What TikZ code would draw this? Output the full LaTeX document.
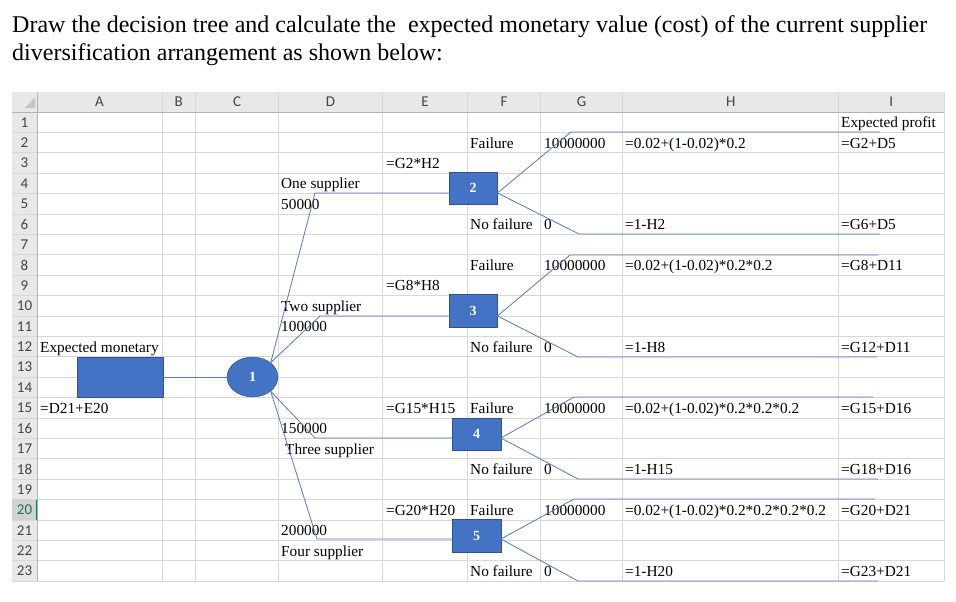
\documentclass[tikz,border=0pt]{standalone}
\usepackage{fontspec}
\setmainfont{Liberation Serif}
\newfontfamily\hdrfont{Carlito}
\usetikzlibrary{shapes.geometric,positioning}
\definecolor{boxblue}{RGB}{68,114,196}
\definecolor{boxedge}{RGB}{47,82,143}
\definecolor{linkblue}{RGB}{84,122,190}
\definecolor{gridgray}{RGB}{216,216,216}
\definecolor{hdrgray}{RGB}{232,232,232}
\definecolor{hdrsel}{RGB}{210,210,210}
\definecolor{selgreen}{RGB}{33,115,70}
\definecolor{hdrtext}{RGB}{68,68,68}

\begin{document}
\begin{tikzpicture}[x=1pt,y=-1pt,{cell/.style={anchor=base west,inner sep=0pt,font=\fontsize{15.3}{15.3}\selectfont}},{hdr/.style={inner sep=0pt,text=hdrtext,font=\hdrfont\fontsize{15}{15}\selectfont}},{sqnode/.style={rectangle,draw=boxedge,fill=boxblue,text=white,font=\bfseries\fontsize{14}{14}\selectfont,minimum width=48.5,minimum height=32.5,inner sep=0pt}},{chance/.style={ellipse,draw=boxedge,fill=boxblue,text=white,font=\bfseries\fontsize{14}{14}\selectfont,minimum width=51,minimum height=40,inner sep=0pt}},{link/.style={color=linkblue,line width=0.8pt}}]
	\useasboundingbox (0,0) rectangle (956,602);
	%%title
	\node [anchor=base west,inner sep=0pt,font=\fontsize{24}{24}\selectfont] (title1) at (12,33) {Draw the decision tree and calculate the\ \ expected monetary value (cost) of the current supplier};
	\node [anchor=base west,inner sep=0pt,font=\fontsize{24}{24}\selectfont] (title2) at (12,60) {diversification arrangement as shown below:};

	%%sheet headers
	\fill [hdrgray] (12,92) rectangle (944,112);
	\fill [hdrgray] (12,112) rectangle (37,581.2);
	\fill [hdrsel] (12,499.6) rectangle (37,520);
	\fill [gray!45] (35,97.5) -- (35,108) -- (24.5,108) -- cycle;
	%%grid
	\foreach \r in {0,...,23}
		\draw [gridgray,line width=0.8pt] (12,{112+20.4*\r}) -- (944,{112+20.4*\r});
	\foreach \x in {37,162,195.7,278.3,382.7,467.3,540.7,622.7,838.7,944}
		\draw [gridgray,line width=0.8pt] (\x,92) -- (\x,581.2);
	\draw [gray!60,line width=0.8pt] (12,112) -- (944,112);
	\draw [gray!60,line width=0.8pt] (37,92) -- (37,581.2);
	\draw [selgreen,line width=1.6pt] (36.6,499.6) -- (36.6,520);
	\foreach \l/\x in {A/99.5,B/178.8,C/237,D/330.5,E/425,F/504,G/581.7,H/730.7,I/891.3}
		\node [hdr] (h\l) at (\x,102) {\l};
	\foreach \r in {1,...,19,21,22,23}
		\node [hdr] (r\r) at (24.5,{112+20.4*\r-10.2}) {\r};
	\node [hdr,text=selgreen] (r20) at (24.5,{112+20.4*20-10.2}) {20};

	%%cell texts
	\foreach \cl/\x/\r/\t in {I/841/1/Expected profit,F/470/2/Failure,G/544/2/10000000,H/625/2/=0.02+(1-0.02)*0.2,I/841/2/=G2+D5,E/386/3/=G2*H2,D/281/4/One supplier,D/281/5/50000,F/470/6/No failure,G/544/6/0,H/625/6/=1-H2,I/841/6/=G6+D5,F/470/8/Failure,G/544/8/10000000,H/625/8/=0.02+(1-0.02)*0.2*0.2,I/841/8/=G8+D11,E/386/9/=G8*H8,D/281/10/Two supplier,D/281/11/100000,A/40/12/Expected monetary,F/470/12/No failure,G/544/12/0,H/625/12/=1-H8,I/841/12/=G12+D11,A/40/15/=D21+E20,E/386/15/=G15*H15,F/470/15/Failure,G/544/15/10000000,H/625/15/=0.02+(1-0.02)*0.2*0.2*0.2,I/841/15/=G15+D16,D/281/16/150000,D/285/17/Three supplier,F/470/18/No failure,G/544/18/0,H/625/18/=1-H15,I/841/18/=G18+D16,E/386/20/=G20*H20,F/470/20/Failure,G/544/20/10000000,H/625/20/=0.02+(1-0.02)*0.2*0.2*0.2*0.2,I/841/20/=G20+D21,D/281/21/200000,D/281/22/Four supplier,F/470/23/No failure,G/544/23/0,H/625/23/=1-H20,I/841/23/=G23+D21}
		\node [cell] (\cl\r) at (\x,{112+20.4*\r-4.7}) {\t};

	%%junctions of the tree
	\coordinate (jOne) at (315,193);
	\coordinate (jTwo) at (320,316);
	\coordinate (jThree) at (315,438);
	\coordinate (jFour) at (317,539);
	\coordinate (f2) at (571,132);
	\coordinate (f2e) at (880,132);
	\coordinate (nf2) at (579,234);
	\coordinate (nf2e) at (880,234);
	\coordinate (f3) at (570,255);
	\coordinate (f3e) at (878,255);
	\coordinate (nf3) at (578,357);
	\coordinate (nf3e) at (877,357);
	\coordinate (f4) at (574,397);
	\coordinate (f4e) at (873,397);
	\coordinate (nf4) at (578,479);
	\coordinate (nf4e) at (878,479);
	\coordinate (f5) at (574,499);
	\coordinate (f5e) at (875,499);
	\coordinate (nf5) at (578,581);
	\coordinate (nf5e) at (878,581);

	%%tree nodes
	\node [rectangle,draw=boxedge,fill=boxblue,minimum width=86,minimum height=40,inner sep=0pt] (emv) at (120,377) {};
	\node [chance] (n1) at (252.5,377) {1};
	\node [sqnode] (n2) at (473,188.3) {2};
	\node [sqnode] (n3) at (473,310.5) {3};
	\node [sqnode] (n4) at (476.5,434) {4};
	\node [sqnode] (n5) at (476.5,535.5) {5};

	%%branches
	\draw [link] (emv) -- (n1);
	\draw [link] (n1.north east) -- (jOne) -- (jOne -| n2.west);
	\draw [link] (n1.north east) -- (jTwo) -- (jTwo -| n3.west);
	\draw [link] (n1.south east) -- (jThree) -- (jThree -| n4.west);
	\draw [link] (n1.south east) -- (jFour) -- (jFour -| n5.west);
	\draw [link] (jOne -| n2.east) -- (f2) -- (f2e);
	\draw [link] (jOne -| n2.east) -- (nf2) -- (nf2e);
	\draw [link] (jTwo -| n3.east) -- (f3) -- (f3e);
	\draw [link] (jTwo -| n3.east) -- (nf3) -- (nf3e);
	\draw [link] (jThree -| n4.east) -- (f4) -- (f4e);
	\draw [link] (jThree -| n4.east) -- (nf4) -- (nf4e);
	\draw [link] (jFour -| n5.east) -- (f5) -- (f5e);
	\draw [link] (jFour -| n5.east) -- (nf5) -- (nf5e);
\end{tikzpicture}
\end{document}
